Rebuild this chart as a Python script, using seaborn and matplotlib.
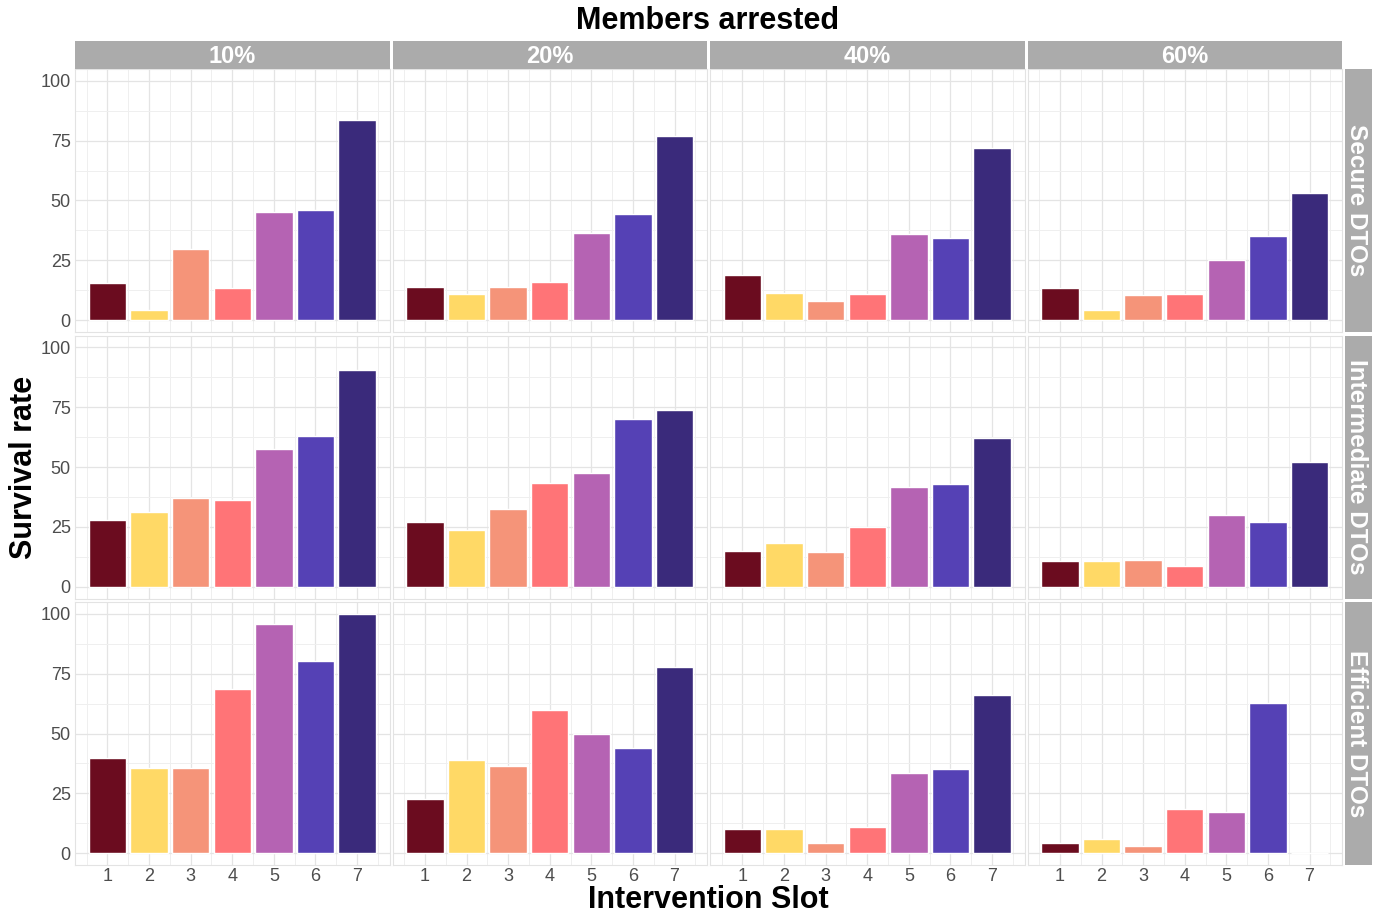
import numpy as np
import pandas as pd
import matplotlib
matplotlib.use("Agg")
import matplotlib.pyplot as plt
import seaborn as sns

sns.set_theme(style="white")
plt.rcParams["font.family"] = ["Liberation Sans", "DejaVu Sans"]

# ---- data -------------------------------------------------------------
slots = [1, 2, 3, 4, 5, 6, 7]
arrest_levels = ["10%", "20%", "40%", "60%"]
dto_types = ["Secure DTOs", "Intermediate DTOs", "Efficient DTOs"]

secure_10 = [15.5, 4.2, 29.8, 13.4, 45.0, 46.0, 83.6]
secure_20 = [14.0, 11.0, 14.0, 16.0, 36.5, 44.5, 77.0]
secure_40 = [19.0, 11.5, 8.0, 11.0, 36.0, 34.5, 72.0]
secure_60 = [13.5, 4.2, 10.5, 10.8, 25.0, 35.0, 53.0]

intermediate_10 = [28.0, 31.0, 37.0, 36.4, 57.7, 63.0, 90.4]
intermediate_20 = [26.9, 23.8, 32.5, 43.4, 47.6, 69.9, 74.0]
intermediate_40 = [15.0, 18.4, 14.6, 25.0, 41.8, 42.7, 62.3]
intermediate_60 = [10.5, 10.5, 11.3, 8.8, 30.0, 26.8, 51.9]

efficient_10 = [39.6, 35.4, 35.7, 68.5, 96.0, 80.4, 100.0]
efficient_20 = [22.4, 39.0, 36.2, 59.7, 50.0, 44.0, 78.0]
efficient_40 = [10.0, 10.0, 4.0, 11.0, 33.6, 35.0, 66.0]
efficient_60 = [4.1, 5.9, 2.8, 18.6, 17.2, 62.9, 0.0]

series = {
    ("Secure DTOs", "10%"): secure_10,
    ("Secure DTOs", "20%"): secure_20,
    ("Secure DTOs", "40%"): secure_40,
    ("Secure DTOs", "60%"): secure_60,
    ("Intermediate DTOs", "10%"): intermediate_10,
    ("Intermediate DTOs", "20%"): intermediate_20,
    ("Intermediate DTOs", "40%"): intermediate_40,
    ("Intermediate DTOs", "60%"): intermediate_60,
    ("Efficient DTOs", "10%"): efficient_10,
    ("Efficient DTOs", "20%"): efficient_20,
    ("Efficient DTOs", "40%"): efficient_40,
    ("Efficient DTOs", "60%"): efficient_60,
}

slot_colors = ["#6B0C1F", "#FFD966", "#F59479", "#FF7477",
               "#B563B3", "#5541B5", "#3A2A7B"]

rows = []
for (dto, lvl), vals in series.items():
    for s, v in zip(slots, vals):
        rows.append({"dto": dto, "arrested": lvl, "slot": str(s), "rate": v})
df = pd.DataFrame(rows)

# ---- layout -----------------------------------------------------------
W, H = 1380, 915
fig = plt.figure(figsize=(W / 100, H / 100), dpi=100)
fig.patch.set_facecolor("white")


def add_ax(x, y, w, h):
    return fig.add_axes([x / W, 1 - (y + h) / H, w / W, h / H])


panel_w, panel_h = 314.5, 263.0
gap_x, gap_y = 3.0, 3.5
left0, top0 = 75.0, 69.0
strip_col = "#ABABAB"
tick_col = "#4D4D4D"
order = [str(s) for s in slots]
palette = dict(zip(order, slot_colors))

for j, dto in enumerate(dto_types):
    for i, lvl in enumerate(arrest_levels):
        x = left0 + i * (panel_w + gap_x)
        y = top0 + j * (panel_h + gap_y)
        ax = add_ax(x, y, panel_w, panel_h)
        sub = df[(df.dto == dto) & (df.arrested == lvl)]
        sns.barplot(data=sub, x="slot", y="rate", hue="slot", order=order,
                    hue_order=order, palette=palette, saturation=1,
                    width=0.9, legend=False, ax=ax, zorder=3)
        ax.set_xlim(-0.78, 6.78)
        ax.set_ylim(-5, 105)
        ax.set_yticks([0, 25, 50, 75, 100])
        ax.set_yticks([12.5, 37.5, 62.5, 87.5], minor=True)
        ax.set_xticks(range(7))
        ax.set_xticks(np.arange(-0.5, 7, 1.0), minor=True)
        ax.grid(True, which="major", color="#E4E4E4", lw=0.9, zorder=0)
        ax.grid(True, which="minor", color="#EFEFEF", lw=0.7, zorder=0)
        ax.set_axisbelow(True)
        ax.set_xlabel("")
        ax.set_ylabel("")
        for sp in ax.spines.values():
            sp.set_color("#E3E3E3")
            sp.set_linewidth(0.8)
        ax.tick_params(which="both", length=0, labelsize=13,
                       labelcolor=tick_col, pad=3)
        ax.tick_params(axis="x", pad=2)
        if i != 0:
            ax.set_yticklabels([])
        else:
            ax.set_yticklabels(["0", "25", "50", "75", "100"])
        if j != len(dto_types) - 1:
            ax.set_xticklabels([])
        else:
            ax.set_xticklabels(order)

# column strips
for i, lvl in enumerate(arrest_levels):
    x = left0 + i * (panel_w + gap_x)
    sax = add_ax(x, 41, panel_w, 27.5)
    sax.set_facecolor(strip_col)
    sax.set_xticks([])
    sax.set_yticks([])
    for sp in sax.spines.values():
        sp.set_visible(False)
    sax.text(0.5, 0.45, lvl, ha="center", va="center", color="white",
             fontsize=17, fontweight="bold", transform=sax.transAxes)

# row strips
for j, dto in enumerate(dto_types):
    y = top0 + j * (panel_h + gap_y)
    sax = add_ax(1344.5, y, 27.5, panel_h)
    sax.set_facecolor(strip_col)
    sax.set_xticks([])
    sax.set_yticks([])
    for sp in sax.spines.values():
        sp.set_visible(False)
    sax.text(0.45, 0.5, dto, ha="center", va="center", color="white",
             fontsize=17.5, fontweight="bold", rotation=-90,
             transform=sax.transAxes)

fig.text(708 / W, 1 - 21 / H, "Members arrested", ha="center", va="center",
         fontsize=22, fontweight="bold", color="black")
fig.text(24 / W, 1 - 467 / H, "Survival rate", ha="center", va="center",
         rotation=90, fontsize=22, fontweight="bold", color="black")
fig.text(708 / W, 1 - 900.5 / H, "Intervention Slot", ha="center",
         va="center", fontsize=22, fontweight="bold", color="black")

fig.savefig("out.png", dpi=100, facecolor="white")
